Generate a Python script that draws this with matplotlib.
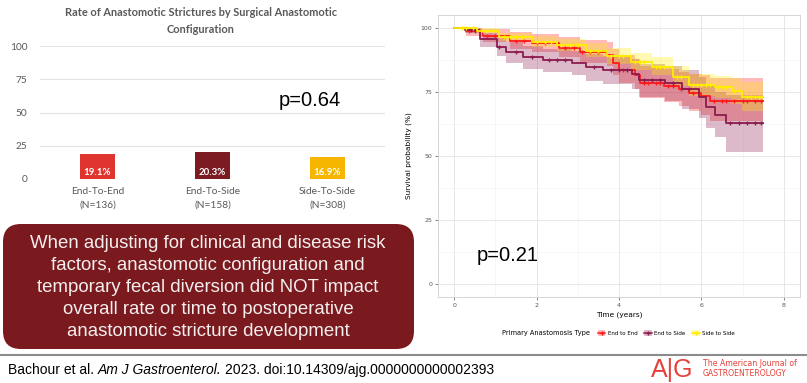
import numpy as np
import matplotlib.pyplot as plt
from matplotlib.patches import FancyBboxPatch, Patch
from matplotlib.lines import Line2D

# ---- bar chart data ----
configs = ["End-To-End\n(N=136)", "End-To-Side\n(N=158)", "Side-To-Side\n(N=308)"]
stricture_rate = [19.1, 20.3, 16.9]
bar_colors = ["#e0342f", "#7c1b22", "#f6b600"]

# ---- Kaplan-Meier data ----
ee_t = [0, 0.3, 0.7, 1.35, 1.9, 2.55, 3.05, 3.7, 3.85, 4.0, 4.4, 4.5, 5.1, 5.45, 5.7, 6.0, 6.2, 7.5]
ee_s = [100, 98.8, 96.9, 95.0, 94.0, 92.3, 90.8, 89.5, 86.2, 83.6, 81.6, 78.4, 77.3, 76.0, 74.5, 73.4, 71.5, 71.5]
ee_lo = [100, 97, 94.5, 92, 90.5, 88.5, 86.5, 85, 81.5, 78.5, 76, 72.5, 71, 69.5, 67.5, 66, 63.5, 63.5]
ee_hi = [100, 100, 99.5, 98.5, 97.5, 96.5, 95.5, 94.5, 92, 89.5, 88, 85, 84, 83, 82, 81.5, 80.5, 80.5]
ee_cens = [0.35, 0.5, 0.8, 1.0, 1.5, 1.7, 2.0, 2.2, 2.7, 2.9, 3.1, 3.3, 3.5, 4.1, 4.6, 4.7,
           4.9, 5.0, 5.2, 5.3, 5.5, 5.8, 6.3, 6.5, 6.6, 6.8, 7.0, 7.1, 7.3, 7.45]

es_t = [0, 0.27, 0.63, 1.03, 1.27, 1.67, 2.15, 2.87, 3.2, 3.6, 4.32, 4.48, 5.12, 5.52, 5.93, 6.12, 6.33, 6.6, 7.5]
es_s = [100, 99.2, 95.6, 92.7, 90.7, 88.5, 87.5, 86.5, 84.9, 83.6, 82.0, 79.7, 78.4, 76.0, 73.2, 69.3, 66.0, 62.8, 62.8]
es_lo = [100, 98, 92.5, 89, 86.5, 84, 83, 81.5, 79.5, 78, 76, 73, 71.5, 68.5, 65, 61, 57.5, 51.5, 51.5]
es_hi = [100, 100, 98, 96, 94.5, 93, 92, 91, 90, 89, 88, 86, 85, 83.5, 81, 77.5, 75, 74, 74]
es_cens = [0.4, 0.5, 1.1, 1.5, 1.9, 2.3, 2.5, 2.7, 3.4, 3.8, 4.0, 4.2, 4.6, 4.8, 5.0,
           5.3, 5.7, 6.7, 6.9, 7.1, 7.3, 7.45]

ss_t = [0, 0.55, 1.1, 1.9, 2.5, 3.2, 3.7, 4.3, 4.8, 5.3, 5.7, 6.33, 6.73, 6.98, 7.5]
ss_s = [100, 99.0, 96.6, 94.7, 93.4, 91.1, 89.0, 86.8, 84.9, 81.0, 77.7, 76.8, 75.5, 73.2, 73.2]
ss_lo = [100, 98, 95, 92.5, 91, 88.5, 86, 83.5, 81.5, 77.5, 73.5, 72.5, 70.5, 67.5, 67.5]
ss_hi = [100, 100, 98.2, 96.8, 95.8, 94, 92.3, 90.3, 88.5, 85, 82, 81.3, 80.5, 79, 79]
ss_cens = [0.2, 0.3, 0.45, 0.7, 0.8, 0.95, 1.2, 1.35, 1.5, 1.65, 2.0, 2.2, 2.35, 2.6, 2.8,
           3.0, 3.3, 3.5, 3.8, 4.0, 4.1, 4.4, 4.5, 4.6, 4.9, 5.0, 5.1, 5.4, 5.5, 5.8,
           5.9, 6.0, 6.1, 6.2, 6.4, 6.5, 6.6, 6.8, 6.9, 7.1, 7.2, 7.3, 7.4, 7.45]

km_groups = [
    ("End to End", ee_t, ee_s, ee_lo, ee_hi, ee_cens, "#ff1a1a"),
    ("End to Side", es_t, es_s, es_lo, es_hi, es_cens, "#8c1b4d"),
    ("Side to Side", ss_t, ss_s, ss_lo, ss_hi, ss_cens, "#ffee00"),
]

summary = ["When adjusting for clinical and disease risk",
           "factors, anastomotic configuration and",
           "temporary fecal diversion did NOT impact",
           "overall rate or time to postoperative",
           "anastomotic stricture development"]

W, H = 807, 383


def px_box(x0, y0, x1, y1):
    return [x0 / W, 1 - y1 / H, (x1 - x0) / W, (y1 - y0) / H]


fig = plt.figure(figsize=(W / 100, H / 100), dpi=100)
fig.patch.set_facecolor("white")

# ---- left: bar chart ----
gray = "#595959"
ax1 = fig.add_axes(px_box(40, 46, 385, 179))
ax1.bar(range(len(configs)), stricture_rate, width=0.31, color=bar_colors, zorder=3)
for i, v in enumerate(stricture_rate):
    ax1.text(i, 1.5, f"{v}%", ha="center", va="bottom", color="white",
             fontsize=7, fontweight="bold", family="Lato", zorder=4)
ax1.set_xlim(-0.5, 2.5)
ax1.set_ylim(0, 100)
ax1.set_yticks([0, 25, 50, 75, 100])
ax1.set_xticks(range(len(configs)))
ax1.set_xticklabels(configs, linespacing=1.6)
ax1.yaxis.grid(True, color="#e4e4e4", lw=0.8)
ax1.set_axisbelow(True)
for s in ax1.spines.values():
    s.set_visible(False)
ax1.tick_params(length=0, colors=gray, labelsize=7.3)
ax1.tick_params(axis="y", pad=9)
ax1.tick_params(axis="x", pad=6)
for lab in ax1.get_xticklabels() + ax1.get_yticklabels():
    lab.set_family("Lato")

# ---- right: Kaplan-Meier ----
ax2 = fig.add_axes(px_box(438, 15, 800, 297))
handles = []
for name, t, s, lo, hi, cens, col in km_groups:
    ax2.fill_between(t, lo, hi, step="post", color=col, alpha=0.3, lw=0)
    ax2.step(t, s, where="post", color=col, lw=1.3)
    idx = np.searchsorted(t, cens, side="right") - 1
    ax2.plot(cens, np.array(s)[idx], "+", color=col, ms=3.5, mew=0.9)
    handles.append((Patch(facecolor=col, alpha=0.3),
                    Line2D([], [], color=col, lw=1.1, marker="+", ms=3.5)))
ax2.set_xlim(-0.39, 8.39)
ax2.set_ylim(-5.1, 105.1)
ax2.set_xticks([0, 2, 4, 6, 8])
ax2.set_xticks([1, 3, 5, 7], minor=True)
ax2.set_yticks([0, 25, 50, 75, 100])
ax2.set_yticks([12.5, 37.5, 62.5, 87.5], minor=True)
ax2.grid(True, which="major", color="#e3e3e3", lw=0.6)
ax2.grid(True, which="minor", color="#f1f1f1", lw=0.4)
ax2.set_axisbelow(True)
for s in ax2.spines.values():
    s.set_color("#d0d0d0")
    s.set_linewidth(0.6)
ax2.tick_params(which="major", length=2, width=0.5, colors="#555555", labelsize=4.5, pad=2)
ax2.tick_params(which="minor", length=0)
ax2.set_xlabel("Time (years)", fontsize=5.3, labelpad=3)
ax2.set_ylabel("Survival probability (%)", fontsize=5.3, labelpad=6)
ax2.text(0.55, 11, "p=0.21", fontsize=14.5, family="Liberation Sans", ha="left", va="center")

leg = fig.legend(handles, [g[0] for g in km_groups], ncol=3, loc="center left",
                 bbox_to_anchor=(593 / W, 1 - 333 / H), frameon=False, fontsize=4,
                 handlelength=1.3, handleheight=1.2, handletextpad=0.5, columnspacing=1.2)
fig.text(590 / W, 1 - 333 / H, "Primary Anastomosis Type", fontsize=4.8,
         ha="right", va="center")

# ---- overlay: summary box, p value, footer ----
ov = fig.add_axes([0, 0, 1, 1])
ov.set_xlim(0, W)
ov.set_ylim(H, 0)
ov.axis("off")
ov.patch.set_alpha(0)

ov.text(201, 21, "Rate of Anastomotic Strictures by Surgical Anastomotic\nConfiguration",
        ha="center", va="center", fontsize=7.9, fontweight="bold", color=gray,
        family="Lato", linespacing=1.75)
ov.text(310, 100, "p=0.64", ha="center", va="center", fontsize=14.5, family="Liberation Sans")

ov.add_patch(FancyBboxPatch((3 + 18, 224 + 18), 411 - 36, 125 - 36,
                            boxstyle="round,pad=18", fc="#7a1a1f", ec="none"))
for k, line in enumerate(summary):
    ov.text(208, 244 + 22 * k, line, ha="center", va="center", color="#f4eeee",
            fontsize=13.4, family="Liberation Sans")

ov.plot([0, W], [355, 355], color="#8c8c8c", lw=1.5)
t1 = ov.text(8, 370, "Bachour et al. ", ha="left", va="center", fontsize=10,
             family="Liberation Sans")
t2 = ov.annotate("Am J Gastroenterol.", xy=(1, 0), xycoords=t1, ha="left", va="bottom",
                 fontsize=10, family="Liberation Sans", style="italic")
ov.annotate("2023. doi:10.14309/ajg.0000000000002393", xy=(1, 0), xycoords=t2,
            xytext=(2.5, 0), textcoords="offset points",
            ha="left", va="bottom", fontsize=10, family="Liberation Sans")

logo_red = "#e6403a"
ov.text(651, 370, "A|G", ha="left", va="center", fontsize=18, color=logo_red,
        family="Liberation Sans")
ov.text(703, 364, "The American Journal of", ha="left", va="center", fontsize=5.6,
        color=logo_red, family="Liberation Sans Narrow")
ov.text(703, 373, "GASTROENTEROLOGY", ha="left", va="center", fontsize=5.6,
        color=logo_red, family="Liberation Sans Narrow")

fig.savefig("out.png", dpi=100)
